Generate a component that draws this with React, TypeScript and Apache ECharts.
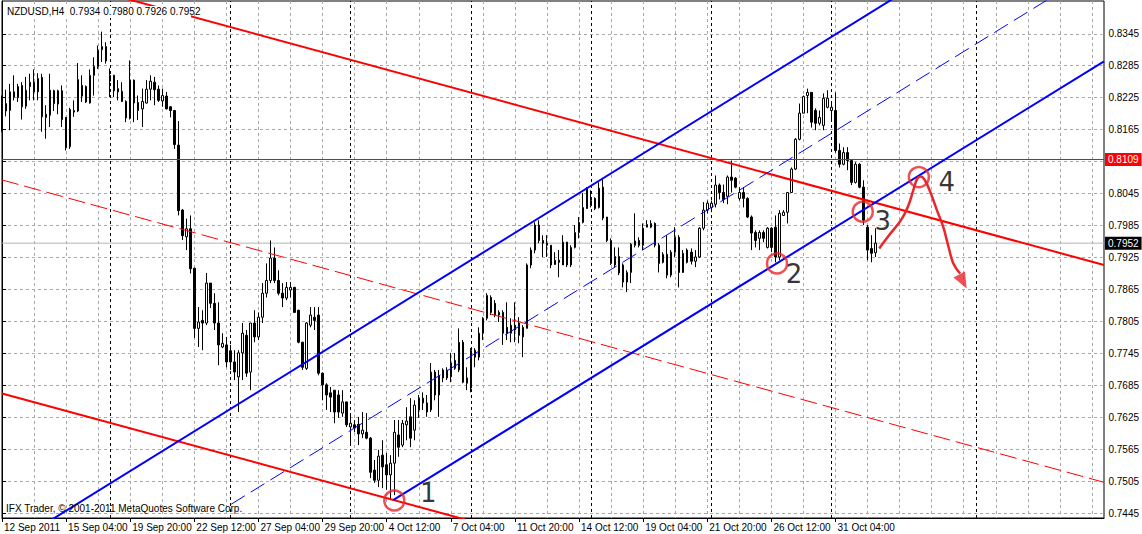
import React, { useEffect, useRef } from 'react';
import * as echarts from 'echarts';

// ---------------- DATA ----------------
const symbolName = 'NZDUSD,H4';

const opens = [
  0.8161, 0.8214, 0.8201, 0.8236, 0.8225, 0.8248, 0.8209, 0.8246, 0.8254, 0.8236,
  0.8263, 0.8188, 0.8192, 0.8238, 0.8213, 0.8238, 0.8188, 0.8133, 0.8198, 0.8200,
  0.8248, 0.8246, 0.8215, 0.8267, 0.8283, 0.8315, 0.8321, 0.8256, 0.8267, 0.8242,
  0.8237, 0.8218, 0.8186, 0.8258, 0.8216, 0.8204, 0.8215, 0.8241, 0.8254, 0.8241,
  0.8219, 0.8228, 0.8208, 0.8201, 0.8136, 0.8014, 0.7964, 0.7979, 0.7905, 0.7792,
  0.7807, 0.7802, 0.7877, 0.7839, 0.7802, 0.7757, 0.7761, 0.7750, 0.7729, 0.7701,
  0.7746, 0.7779, 0.7710, 0.7802, 0.7776, 0.7813, 0.7858, 0.7882, 0.7924, 0.7882,
  0.7858, 0.7849, 0.7864, 0.7869, 0.7826, 0.7766, 0.7717, 0.7798, 0.7813, 0.7817,
  0.7708, 0.7686, 0.7671, 0.7676, 0.7667, 0.7633, 0.7654, 0.7607, 0.7611, 0.7612,
  0.7594, 0.7597, 0.7586, 0.7526, 0.7507, 0.7554, 0.7536, 0.7517, 0.7539, 0.7592,
  0.7573, 0.7611, 0.7626, 0.7601, 0.7639, 0.7661, 0.7652, 0.7639, 0.7710, 0.7667,
  0.7699, 0.7714, 0.7701, 0.7732, 0.7714, 0.7766, 0.7689, 0.7680, 0.7751, 0.7738,
  0.7783, 0.7811, 0.7850, 0.7839, 0.7822, 0.7822, 0.7794, 0.7783, 0.7798, 0.7802,
  0.7776, 0.7792, 0.7911, 0.7939, 0.7986, 0.7957, 0.7948, 0.7948, 0.7912, 0.7920,
  0.7911, 0.7954, 0.7911, 0.7944, 0.7972, 0.7991, 0.8017, 0.8023, 0.8036, 0.8019,
  0.8057, 0.8001, 0.7957, 0.7911, 0.7927, 0.7911, 0.7879, 0.7897, 0.7948, 0.7957,
  0.7948, 0.7982, 0.7982, 0.7989, 0.7948, 0.7916, 0.7931, 0.7892, 0.7935, 0.7963,
  0.7897, 0.7939, 0.7935, 0.7918, 0.7926, 0.7980, 0.8014, 0.8019, 0.8025, 0.8061,
  0.8047, 0.8040, 0.8076, 0.8074, 0.8036, 0.8047, 0.8036, 0.8001, 0.7972, 0.7961,
  0.7972, 0.7944, 0.7980, 0.7982, 0.7926, 0.8004, 0.8010, 0.8047, 0.8091, 0.8147,
  0.8196, 0.8229, 0.8235, 0.8201, 0.8177, 0.8173, 0.8207, 0.8201, 0.8201, 0.8126,
  0.8100, 0.8122, 0.8107, 0.8066, 0.8100, 0.8057, 0.7982, 0.7942, 0.7934,
];
const highs = [
  0.8229, 0.8240, 0.8251, 0.8267, 0.8251, 0.8254, 0.8264, 0.8270, 0.8278, 0.8271,
  0.8270, 0.8211, 0.8270, 0.8240, 0.8240, 0.8248, 0.8189, 0.8206, 0.8220, 0.8290,
  0.8267, 0.8248, 0.8278, 0.8301, 0.8323, 0.8349, 0.8329, 0.8280, 0.8268, 0.8258,
  0.8254, 0.8220, 0.8295, 0.8259, 0.8229, 0.8242, 0.8258, 0.8267, 0.8264, 0.8248,
  0.8242, 0.8236, 0.8209, 0.8202, 0.8181, 0.8016, 0.7998, 0.8004, 0.7905, 0.7832,
  0.7826, 0.7896, 0.7877, 0.7858, 0.7841, 0.7783, 0.7776, 0.7761, 0.7751, 0.7751,
  0.7802, 0.7789, 0.7802, 0.7826, 0.7822, 0.7877, 0.7914, 0.7957, 0.7944, 0.7901,
  0.7877, 0.7879, 0.7879, 0.7870, 0.7827, 0.7767, 0.7804, 0.7832, 0.7832, 0.7832,
  0.7709, 0.7689, 0.7682, 0.7676, 0.7676, 0.7676, 0.7654, 0.7629, 0.7620, 0.7626,
  0.7635, 0.7633, 0.7588, 0.7545, 0.7564, 0.7582, 0.7558, 0.7554, 0.7620, 0.7620,
  0.7620, 0.7644, 0.7661, 0.7657, 0.7667, 0.7672, 0.7667, 0.7727, 0.7714, 0.7714,
  0.7717, 0.7719, 0.7746, 0.7746, 0.7792, 0.7770, 0.7719, 0.7755, 0.7755, 0.7794,
  0.7813, 0.7858, 0.7854, 0.7845, 0.7826, 0.7826, 0.7841, 0.7811, 0.7841, 0.7813,
  0.7798, 0.7914, 0.7944, 0.7991, 0.7995, 0.7967, 0.7967, 0.7948, 0.7935, 0.7939,
  0.7967, 0.7954, 0.7948, 0.7986, 0.8001, 0.8046, 0.8057, 0.8051, 0.8038, 0.8066,
  0.8074, 0.8001, 0.7961, 0.7944, 0.7944, 0.7914, 0.7901, 0.7952, 0.8008, 0.7963,
  0.7989, 0.7995, 0.7995, 0.7991, 0.7952, 0.7935, 0.7967, 0.7939, 0.7982, 0.7967,
  0.7939, 0.7942, 0.7942, 0.7939, 0.7982, 0.8029, 0.8032, 0.8032, 0.8079, 0.8064,
  0.8062, 0.8079, 0.8107, 0.8076, 0.8057, 0.8057, 0.8038, 0.8004, 0.7976, 0.7976,
  0.7976, 0.7982, 0.7982, 0.8004, 0.8014, 0.8014, 0.8047, 0.8094, 0.8149, 0.8214,
  0.8229, 0.8242, 0.8235, 0.8205, 0.8201, 0.8233, 0.8239, 0.8214, 0.8235, 0.8139,
  0.8132, 0.8132, 0.8107, 0.8104, 0.8102, 0.8070, 0.7986, 0.7967, 0.7980,
];
const lows = [
  0.8160, 0.8190, 0.8164, 0.8220, 0.8217, 0.8184, 0.8204, 0.8220, 0.8220, 0.8220,
  0.8161, 0.8148, 0.8170, 0.8200, 0.8194, 0.8170, 0.8126, 0.8129, 0.8189, 0.8198,
  0.8217, 0.8215, 0.8214, 0.8229, 0.8279, 0.8292, 0.8289, 0.8226, 0.8226, 0.8220,
  0.8217, 0.8179, 0.8184, 0.8179, 0.8183, 0.8170, 0.8214, 0.8220, 0.8211, 0.8217,
  0.8208, 0.8203, 0.8188, 0.8129, 0.8004, 0.7958, 0.7939, 0.7895, 0.7774, 0.7757,
  0.7751, 0.7798, 0.7830, 0.7789, 0.7723, 0.7755, 0.7719, 0.7714, 0.7695, 0.7635,
  0.7695, 0.7701, 0.7676, 0.7766, 0.7770, 0.7802, 0.7850, 0.7877, 0.7877, 0.7854,
  0.7832, 0.7845, 0.7850, 0.7822, 0.7764, 0.7714, 0.7714, 0.7794, 0.7789, 0.7704,
  0.7657, 0.7639, 0.7635, 0.7614, 0.7624, 0.7626, 0.7607, 0.7573, 0.7597, 0.7573,
  0.7586, 0.7584, 0.7511, 0.7502, 0.7494, 0.7492, 0.7489, 0.7470, 0.7479, 0.7551,
  0.7569, 0.7582, 0.7569, 0.7582, 0.7624, 0.7639, 0.7626, 0.7635, 0.7657, 0.7626,
  0.7691, 0.7695, 0.7691, 0.7714, 0.7710, 0.7689, 0.7676, 0.7672, 0.7719, 0.7732,
  0.7770, 0.7807, 0.7817, 0.7813, 0.7804, 0.7761, 0.7770, 0.7766, 0.7766, 0.7764,
  0.7738, 0.7792, 0.7905, 0.7933, 0.7952, 0.7926, 0.7926, 0.7905, 0.7911, 0.7888,
  0.7911, 0.7907, 0.7907, 0.7942, 0.7961, 0.7989, 0.8016, 0.8019, 0.8014, 0.8017,
  0.7995, 0.7954, 0.7911, 0.7907, 0.7892, 0.7869, 0.7860, 0.7877, 0.7944, 0.7944,
  0.7939, 0.7982, 0.7980, 0.7944, 0.7897, 0.7914, 0.7886, 0.7888, 0.7926, 0.7869,
  0.7896, 0.7914, 0.7912, 0.7907, 0.7924, 0.7976, 0.8008, 0.8010, 0.8019, 0.8034,
  0.8027, 0.8025, 0.8047, 0.8055, 0.8032, 0.8019, 0.7999, 0.7939, 0.7944, 0.7939,
  0.7954, 0.7942, 0.7935, 0.7916, 0.7920, 0.8004, 0.7989, 0.8046, 0.8089, 0.8145,
  0.8196, 0.8196, 0.8169, 0.8164, 0.8173, 0.8164, 0.8205, 0.8182, 0.8122, 0.8094,
  0.8098, 0.8089, 0.8061, 0.8064, 0.8055, 0.7986, 0.7920, 0.7916, 0.7926,
];
const closes = [
  0.8214, 0.8200, 0.8236, 0.8226, 0.8246, 0.8208, 0.8239, 0.8254, 0.8236, 0.8261,
  0.8189, 0.8194, 0.8239, 0.8214, 0.8238, 0.8184, 0.8131, 0.8203, 0.8201, 0.8259,
  0.8228, 0.8217, 0.8267, 0.8284, 0.8314, 0.8321, 0.8294, 0.8267, 0.8238, 0.8236,
  0.8218, 0.8187, 0.8258, 0.8215, 0.8201, 0.8218, 0.8241, 0.8256, 0.8240, 0.8220,
  0.8229, 0.8204, 0.8201, 0.8137, 0.8013, 0.7966, 0.7979, 0.7904, 0.7792, 0.7804,
  0.7802, 0.7877, 0.7839, 0.7802, 0.7761, 0.7764, 0.7729, 0.7729, 0.7710, 0.7746,
  0.7783, 0.7708, 0.7802, 0.7776, 0.7813, 0.7858, 0.7882, 0.7924, 0.7882, 0.7858,
  0.7849, 0.7869, 0.7869, 0.7822, 0.7766, 0.7719, 0.7802, 0.7817, 0.7807, 0.7708,
  0.7686, 0.7667, 0.7663, 0.7635, 0.7635, 0.7654, 0.7611, 0.7614, 0.7605, 0.7594,
  0.7601, 0.7586, 0.7522, 0.7507, 0.7552, 0.7532, 0.7517, 0.7539, 0.7597, 0.7569,
  0.7614, 0.7618, 0.7586, 0.7648, 0.7661, 0.7652, 0.7635, 0.7710, 0.7667, 0.7704,
  0.7714, 0.7699, 0.7727, 0.7717, 0.7766, 0.7691, 0.7699, 0.7751, 0.7738, 0.7783,
  0.7811, 0.7854, 0.7822, 0.7817, 0.7817, 0.7783, 0.7783, 0.7798, 0.7789, 0.7779,
  0.7794, 0.7911, 0.7939, 0.7986, 0.7957, 0.7952, 0.7952, 0.7911, 0.7920, 0.7916,
  0.7954, 0.7911, 0.7944, 0.7972, 0.7991, 0.8019, 0.8055, 0.8032, 0.8017, 0.8055,
  0.7999, 0.7957, 0.7914, 0.7927, 0.7896, 0.7879, 0.7897, 0.7950, 0.7956, 0.7948,
  0.7980, 0.7987, 0.7989, 0.7948, 0.7914, 0.7931, 0.7892, 0.7935, 0.7963, 0.7897,
  0.7933, 0.7916, 0.7918, 0.7926, 0.7980, 0.8014, 0.8027, 0.8027, 0.8061, 0.8047,
  0.8034, 0.8076, 0.8070, 0.8057, 0.8047, 0.8036, 0.8001, 0.7971, 0.7957, 0.7972,
  0.7961, 0.7980, 0.7944, 0.7926, 0.8008, 0.8010, 0.8047, 0.8091, 0.8147, 0.8196,
  0.8227, 0.8235, 0.8179, 0.8177, 0.8188, 0.8224, 0.8224, 0.8207, 0.8126, 0.8100,
  0.8122, 0.8107, 0.8066, 0.8100, 0.8057, 0.7995, 0.7939, 0.7933, 0.7952,
];

// total bar slots on the time axis (real bars + empty shift area on the right)
const totalSlots = 276;
const xTickLabels = [
  '12 Sep 2011', '15 Sep 04:00', '19 Sep 20:00', '22 Sep 12:00', '27 Sep 04:00',
  '29 Sep 20:00', '4 Oct 12:00', '7 Oct 04:00', '11 Oct 20:00', '14 Oct 12:00',
  '19 Oct 04:00', '21 Oct 20:00', '26 Oct 12:00', '31 Oct 04:00',
];
const barsPerLabel = 16;
const barsPerGrid = 8;
const weekSeparators = [27, 57, 87, 117, 147, 177, 207, 243];

const yTickMin = 0.7445;
const yTickMax = 0.8345;
const yTickStep = 0.006;
const yViewMin = 0.74361;
const yViewMax = 0.84065;

const levelLine = 0.8109;
const bidPrice = 0.7952;

// trend channels: two anchor points each [bar index, price]
const redChannelUpper = [[46.5, 0.8379], [249.1, 0.7964]];
const redChannelMid = [[0.3, 0.807], [94.3, 0.7876]];
const redChannelLower = [[44.4, 0.7579], [111.8, 0.7441]];
const blueChannelUpper = [[44.4, 0.7582], [197.5, 0.8295]];
const blueChannelMid = [[57.2, 0.7462], [249.1, 0.8354]];
const blueChannelLower = [[97.7, 0.747], [249.1, 0.8173]];

// marked touch points
const markerLabels = ['1', '2', '3', '4'];
const markerIdx = [97.9, 193.4, 214.8, 228.8];
const markerPrice = [0.7469, 0.7914, 0.8011, 0.8076];

// hand-drawn forecast arrow
const arrowPath = [
  [218.9, 0.7942], [221.6, 0.7969], [224.5, 0.7997], [226.2, 0.8023], [227.4, 0.8051],
  [228.4, 0.8073], [229.3, 0.8077], [230.3, 0.807], [231.6, 0.8049], [233.3, 0.8014],
  [234.9, 0.7982], [236.2, 0.7945], [237.4, 0.7914], [239.1, 0.7895],
];
const arrowHead = [239.8, 0.788];

const footerText = 'IFX Trader, \u00a9 2001-2011 MetaQuotes Software Corp.';

// ---------------- CHART ----------------
const FONT = "'Liberation Sans', Arial, sans-serif";
const GRID_COLOR = '#a9a9a9';
const ANNOT_RED = '#e8262b';

// plot geometry (pixels)
const PLOT_TOP = 1;
const PLOT_BOTTOM_GAP = 16;
const CHART_H = 534;

function extendLine(a: number[], b: number[], x0: number, x1: number) {
  const f = (x: number) => a[1] + ((b[1] - a[1]) * (x - a[0])) / (b[0] - a[0]);
  return [[x0, f(x0)], [x1, f(x1)]];
}

export default function App() {
  const ref = useRef<HTMLDivElement>(null);

  useEffect(() => {
    if (!ref.current) return;
    const chart = echarts.init(ref.current, undefined, { renderer: 'svg' });
    const nBars = opens.length;
    const last = nBars - 1;
    const lastX = totalSlots - 1;
    const categories = Array.from({ length: totalSlots }, (_, i) => 'b' + i);
    const candleData = opens.map((o, i) => [o, closes[i], lows[i], highs[i]]);
    const headerText =
      symbolName + '  ' +
      [opens[last], highs[last], lows[last], closes[last]].map((v) => v.toFixed(4)).join(' ');

    // second grid holds the labelled price scale; it is aligned on the same pixel scale
    const plotH = CHART_H - PLOT_TOP - PLOT_BOTTOM_GAP;
    const pxPerUnit = plotH / (yViewMax - yViewMin);
    const tickTop = PLOT_TOP + (yViewMax - yTickMax) * pxPerUnit;
    const tickBottom = CHART_H - (PLOT_TOP + (yViewMax - yTickMin) * pxPerUnit);

    const labelInterval = (i: number) => i % barsPerLabel === 0 && i < nBars;
    const markerOffsets = [[34, -7], [17, 11], [20, 9], [28, 5]];

    const lineSeries = (pts: number[][], color: string, width: number, type: any, z: number) => ({
      type: 'line',
      xAxisIndex: 1,
      yAxisIndex: 0,
      data: pts,
      symbol: 'none',
      silent: true,
      clip: true,
      lineStyle: { color, width, type },
      itemStyle: { color },
      z,
    });

    const priceTag = (value: number, lineColor: string, tagColor: string) => ({
      type: 'line',
      xAxisIndex: 1,
      yAxisIndex: 0,
      data: [],
      silent: true,
      color: lineColor,
      itemStyle: { color: lineColor },
      lineStyle: { color: lineColor, width: 0 },
      markLine: {
        silent: true,
        z: 6,
        precision: 4,
        symbol: ['none', 'none'],
        lineStyle: { color: lineColor, width: 0, type: 'solid' },
        label: {
          show: true,
          position: 'end',
          formatter: value.toFixed(4),
          color: '#fff',
          backgroundColor: tagColor,
          padding: [2, 3, 1, 3],
          distance: 1,
          fontSize: 10,
          fontFamily: FONT,
        },
        data: [{ yAxis: value }],
      },
    });

    const option: any = {
      animation: false,
      backgroundColor: '#ffffff',
      grid: [
        { left: 2, right: 38, top: PLOT_TOP, bottom: PLOT_BOTTOM_GAP, show: true, borderColor: '#000', borderWidth: 1, backgroundColor: 'transparent' },
        { left: 2, right: 38, top: tickTop, bottom: tickBottom, show: false },
      ],
      xAxis: [
        {
          type: 'category',
          gridIndex: 0,
          data: categories,
          boundaryGap: false,
          axisLine: { show: true, lineStyle: { color: '#000', width: 1 } },
          axisTick: { show: true, length: 4, interval: labelInterval, lineStyle: { color: '#000' } },
          axisLabel: {
            show: true,
            interval: labelInterval,
            formatter: (_v: string, i: number) => xTickLabels[i / barsPerLabel] ?? '',
            align: 'left',
            margin: 4,
            padding: [0, 0, 0, 2],
            color: '#000',
            fontSize: 10,
            fontFamily: FONT,
          },
          splitLine: {
            show: true,
            interval: (i: number) => i % barsPerGrid === 0,
            lineStyle: { color: GRID_COLOR, type: [3, 3], width: 1 },
          },
        },
        { type: 'value', gridIndex: 0, min: 0, max: lastX, show: false },
        { type: 'value', gridIndex: 1, min: 0, max: 1, show: false },
      ],
      yAxis: [
        {
          type: 'value',
          gridIndex: 0,
          min: yViewMin,
          max: yViewMax,
          position: 'right',
          axisLine: { show: true, lineStyle: { color: '#000' } },
          axisTick: { show: false },
          axisLabel: { show: false },
          splitLine: { show: false },
        },
        {
          type: 'value',
          gridIndex: 1,
          min: yTickMin,
          max: yTickMax,
          interval: yTickStep,
          position: 'right',
          axisLine: { show: false },
          axisTick: { show: true, length: 4, lineStyle: { color: '#000' } },
          axisLabel: {
            show: true,
            margin: 6,
            color: '#000',
            fontSize: 10,
            fontFamily: FONT,
            formatter: (v: number) => (Math.abs(v - 0.8105) < 1e-6 ? '' : v.toFixed(4)),
          },
          splitLine: { show: true, lineStyle: { color: GRID_COLOR, type: [3, 3], width: 1 } },
        },
      ],
      series: [
        {
          type: 'line',
          xAxisIndex: 1,
          yAxisIndex: 0,
          data: [],
          silent: true,
          markLine: {
            silent: true,
            z: 1,
            precision: 4,
            symbol: ['none', 'none'],
            label: { show: false },
            lineStyle: { color: '#000', type: [3, 3], width: 1 },
            data: weekSeparators.map((x) => ({ xAxis: x })),
          },
        },
        lineSeries([[0, bidPrice], [lastX, bidPrice]], '#b4b4b4', 1, 'solid', 1),
        {
          type: 'candlestick',
          xAxisIndex: 0,
          yAxisIndex: 0,
          data: candleData,
          barWidth: 2,
          silent: true,
          z: 2,
          itemStyle: {
            color: '#ffffff',
            color0: '#000000',
            borderColor: '#000000',
            borderColor0: '#000000',
            borderWidth: 1,
          },
        },
        lineSeries([[0, levelLine], [lastX, levelLine]], '#ff0000', 1, 'solid', 3),
        priceTag(levelLine, '#ff0000', '#ff0000'),
        priceTag(bidPrice, '#b4b4b4', '#000000'),
        lineSeries(extendLine(redChannelUpper[0], redChannelUpper[1], 0, lastX), '#ff0000', 2, 'solid', 4),
        lineSeries(extendLine(redChannelMid[0], redChannelMid[1], 0, lastX), '#ff0000', 1, [17, 6], 4),
        lineSeries(extendLine(redChannelLower[0], redChannelLower[1], 0, lastX), '#ff0000', 2, 'solid', 4),
        lineSeries(extendLine(blueChannelUpper[0], blueChannelUpper[1], 0, lastX), '#0000ff', 2, 'solid', 4),
        lineSeries(extendLine(blueChannelMid[0], blueChannelMid[1], blueChannelMid[0][0], lastX), '#0000ff', 1, [16, 7], 4),
        lineSeries(extendLine(blueChannelLower[0], blueChannelLower[1], blueChannelLower[0][0], lastX), '#0000ff', 2, 'solid', 4),
        {
          type: 'line',
          xAxisIndex: 1,
          yAxisIndex: 0,
          data: arrowPath,
          smooth: 0.4,
          symbol: 'none',
          silent: true,
          lineStyle: { color: ANNOT_RED, width: 2.5 },
          z: 5,
        },
        {
          type: 'scatter',
          xAxisIndex: 1,
          yAxisIndex: 0,
          data: [arrowHead],
          symbol: 'triangle',
          symbolSize: [13, 16],
          symbolRotate: -152,
          silent: true,
          itemStyle: { color: ANNOT_RED },
          z: 5,
        },
        {
          type: 'scatter',
          xAxisIndex: 1,
          yAxisIndex: 0,
          silent: true,
          data: markerIdx.map((x, i) => ({
            value: [x, markerPrice[i]],
            label: { offset: markerOffsets[i] },
          })),
          symbol: 'circle',
          symbolSize: 20,
          itemStyle: { color: 'rgba(255,255,255,0)', borderColor: ANNOT_RED, borderWidth: 2.5 },
          label: {
            show: true,
            position: 'inside',
            formatter: (p: any) => markerLabels[p.dataIndex],
            fontSize: 26,
            fontFamily: "'DejaVu Sans', sans-serif",
            color: '#000',
          },
          z: 6,
        },
      ],
      graphic: [
        { type: 'rect', shape: { x: 5, y: 6, width: 186, height: 12 }, style: { fill: '#fff' }, z: 100, silent: true },
        {
          type: 'text', x: 7, y: 11, z: 101, silent: true,
          style: { text: headerText, font: `10px ${FONT}`, fill: '#000', verticalAlign: 'middle' },
        },
        {
          type: 'text', x: 6, y: 508, z: 101, silent: true,
          style: { text: footerText, font: `10px ${FONT}`, fill: '#000', verticalAlign: 'middle' },
        },
      ],
    };

    chart.setOption(option);
    return () => chart.dispose();
  }, []);

  return (
    <div
      ref={ref}
      style={{ position: 'fixed', left: 0, top: 0, width: 1142, height: 534, background: '#fff' }}
    />
  );
}
